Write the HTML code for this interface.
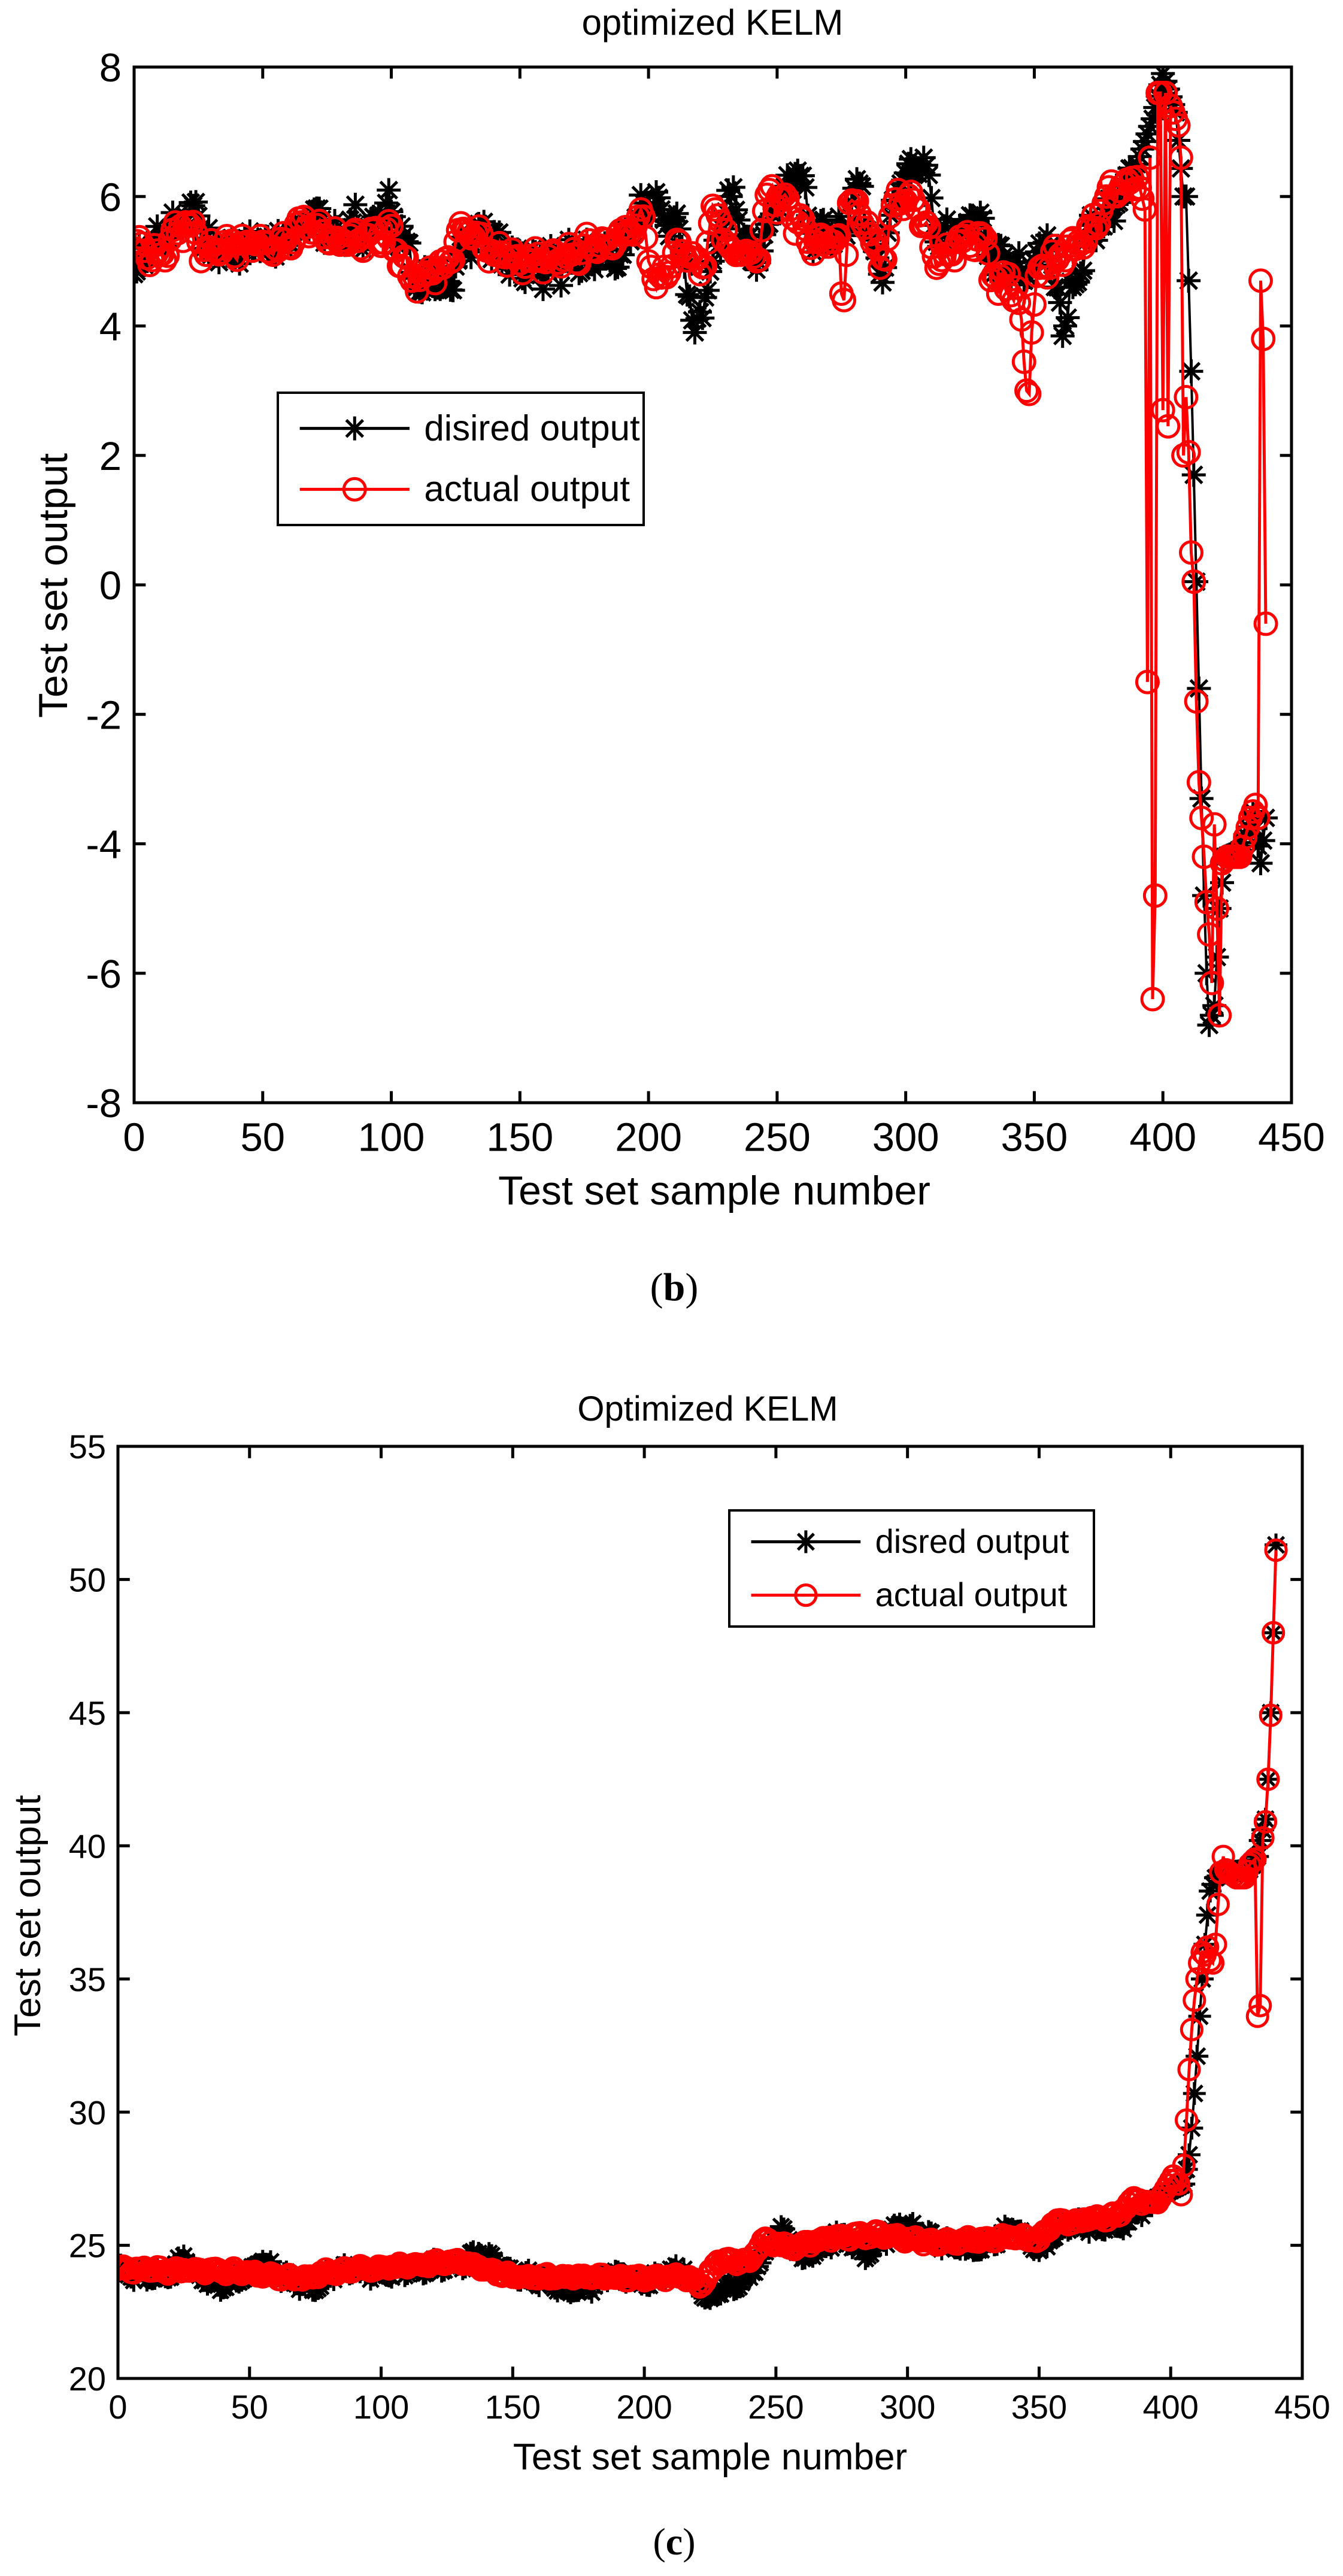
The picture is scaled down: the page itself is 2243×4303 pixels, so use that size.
<!DOCTYPE html>
<html><head><meta charset="utf-8">
<style>
html,body{margin:0;padding:0;background:#fff;}
svg{display:block;}
text{font-family:"Liberation Sans",Arial,sans-serif;fill:#000;}
.cap{font-family:"Liberation Serif",serif;}
</style></head>
<body>
<svg id="s" width="2243" height="4303" viewBox="0 0 2243 4303" xmlns="http://www.w3.org/2000/svg">
<defs>
<clipPath id="c1"><rect x="224" y="112" width="1933" height="1730"/></clipPath>
<clipPath id="c2"><rect x="197" y="2416" width="1978" height="1557"/></clipPath>
</defs>
<!-- chart b texts -->
<text x="1190" y="58" font-size="60" text-anchor="middle">optimized KELM</text>
<text x="1193" y="2012" font-size="68" text-anchor="middle">Test set sample number</text>
<text transform="translate(112,978) rotate(-90)" font-size="68" text-anchor="middle">Test set output</text>
<text class="cap" x="1126" y="2172" font-size="66" text-anchor="middle">(<tspan font-weight="bold">b</tspan>)</text>
<!-- chart c texts -->
<text x="1182" y="2373" font-size="58" text-anchor="middle">Optimized KELM</text>
<text x="1186" y="4125" font-size="62" text-anchor="middle">Test set sample number</text>
<text transform="translate(67,3200) rotate(-90)" font-size="62" text-anchor="middle">Test set output</text>
<text class="cap" x="1126" y="4267" font-size="64" text-anchor="middle">(<tspan font-weight="bold">c</tspan>)</text>
<g id="g1"></g>
<g id="g2"></g>
</svg>
<script>
var NS="http://www.w3.org/2000/svg";
function el(p,t,a){var e=document.createElementNS(NS,t);for(var k in a)e.setAttribute(k,a[k]);p.appendChild(e);return e;}
var seed=7;function rnd(){seed=(seed*16807)%2147483647;return seed/2147483647;}
function series(kp,noise){var out=[];var j=0;for(var i=0;i<=440;i++){while(j<kp.length-2&&kp[j+1][0]<i)j++;var a=kp[j],b=kp[j+1];var t=(b[0]==a[0])?0:(i-a[0])/(b[0]-a[0]);t=Math.max(0,Math.min(1,t));var v=a[1]+(b[1]-a[1])*t;
var exact=false;for(var q=0;q<kp.length;q++){if(kp[q][0]==i){v=kp[q][1];exact=true;break;}}
if(i<390&&!exact)v+=(Math.sin(i*0.9)*0.5+ (rnd()-0.5))*noise;out.push(v);}return out;}
function chart(g,L,T,R,B,xmin,xmax,ymin,ymax,yt,fs,lab,clip,D,A,leg,ms){
 var X=function(x){return L+(x-xmin)/(xmax-xmin)*(R-L);},Y=function(y){return B-(y-ymin)/(ymax-ymin)*(B-T);};
 var tl=(R-L)*0.01;
 for(var x=0;x<=450;x+=50){var px=X(x);el(g,"line",{x1:px,y1:B,x2:px,y2:B-tl,stroke:"#000","stroke-width":5});el(g,"line",{x1:px,y1:T,x2:px,y2:T+tl,stroke:"#000","stroke-width":5});
  var t=el(g,"text",{x:px,y:B+fs*1.2,"font-size":fs,"text-anchor":"middle"});t.textContent=x;}
 yt.forEach(function(y){var py=Y(y);el(g,"line",{x1:L,y1:py,x2:L+tl,y2:py,stroke:"#000","stroke-width":5});el(g,"line",{x1:R,y1:py,x2:R-tl,y2:py,stroke:"#000","stroke-width":5});
  var t=el(g,"text",{x:L-lab,y:py+fs*0.36,"font-size":fs,"text-anchor":"end"});t.textContent=y;});
 var pg=el(g,"g",{"clip-path":"url(#"+clip+")"});
 var d="",a="";D.forEach(function(v,i){d+=(i?"L":"M")+X(i).toFixed(1)+","+Y(v).toFixed(1);});
 A.forEach(function(v,i){a+=(i?"L":"M")+X(i).toFixed(1)+","+Y(v).toFixed(1);});
 el(pg,"path",{d:d,fill:"none",stroke:"#000","stroke-width":4});
 var sp="";D.forEach(function(v,i){sp+=star(X(i),Y(v),ms);});
 el(pg,"path",{d:sp,fill:"none",stroke:"#000","stroke-width":5});
 el(pg,"path",{d:a,fill:"none",stroke:"#f00","stroke-width":5});
 A.forEach(function(v,i){el(pg,"circle",{cx:X(i),cy:Y(v),r:ms*0.9,fill:"none",stroke:"#f00","stroke-width":5});});
 el(g,"rect",{x:L,y:T,width:R-L,height:B-T,fill:"none",stroke:"#000","stroke-width":5});
 // legend
 var lx=leg[0],ly=leg[1],lw=leg[2],lh=leg[3],lf=leg[4];
 el(g,"rect",{x:lx,y:ly,width:lw,height:lh,fill:"#fff",stroke:"#000","stroke-width":4});
 var y1=ly+lh*0.27,y2=ly+lh*0.73,x0=lx+lw*0.06,x1=lx+lw*0.36,xm=(x0+x1)/2;
 el(g,"line",{x1:x0,y1:y1,x2:x1,y2:y1,stroke:"#000","stroke-width":5});
 el(g,"path",{d:star(xm,y1,ms),stroke:"#000","stroke-width":5,fill:"none"});
 el(g,"line",{x1:x0,y1:y2,x2:x1,y2:y2,stroke:"#f00","stroke-width":5});
 el(g,"circle",{cx:xm,cy:y2,r:ms*0.9,fill:"none",stroke:"#f00","stroke-width":5});
 var t1=el(g,"text",{x:lx+lw*0.4,y:y1+lf*0.33,"font-size":lf});t1.textContent=leg[5];
 var t2=el(g,"text",{x:lx+lw*0.4,y:y2+lf*0.33,"font-size":lf});t2.textContent="actual output";
}
function star(x,y,s){var h=s,k=s*0.7;return "M"+(x-h)+","+y+"h"+(2*h)+"M"+x+","+(y-h)+"v"+(2*h)+"M"+(x-k)+","+(y-k)+"l"+(2*k)+","+(2*k)+"M"+(x-k)+","+(y+k)+"l"+(2*k)+","+(-2*k);}
var D1=series([[0,4.8],[5,5.2],[10,5.3],[20,5.7],[25,5.7],[30,5.1],[40,5.2],[50,5.3],[60,5.3],[65,5.6],[70,5.8],[75,5.4],[80,5.3],[85,5.6],[90,5.4],[98,5.9],[105,5.4],[110,4.6],[120,4.6],[128,5.2],[135,5.5],[145,5.0],[160,4.9],[170,5.0],[190,5.1],[198,5.9],[205,5.8],[212,5.5],[218,3.9],[225,5.0],[232,6.0],[240,5.0],[250,5.9],[258,6.4],[265,5.3],[275,5.5],[282,6.2],[290,4.8],[298,6.2],[307,6.6],[312,5.3],[320,5.3],[326,5.7],[335,5.0],[345,4.8],[350,5.0],[355,5.4],[358,4.6],[362,4.0],[365,4.6],[370,5.3],[380,5.8],[390,6.5],[396,7.2],[400,7.9],[405,7.3],[408,6.0],[409,6.0],[410,4.7],[411,3.3],[412,1.7],[413,0.05],[414,-1.6],[415,-3.3],[416,-4.8],[417,-6],[418,-6.8],[420,-6.5],[422,-5],[424,-4.2],[430,-4.1],[435,-3.5],[438,-4.3],[440,-3.6]],0.35);
var A1=series([[0,5.2],[10,5.1],[20,5.6],[28,5.1],[45,5.3],[55,5.2],[65,5.6],[75,5.3],[90,5.4],[98,5.5],[108,4.7],[120,4.9],[128,5.5],[140,5.1],[155,5.0],[170,5.1],[190,5.4],[197,5.8],[203,4.6],[212,5.3],[220,4.8],[226,5.8],[232,5.2],[242,5.0],[247,6.1],[255,5.8],[262,5.3],[272,5.3],[274,5.4],[275,4.5],[276,4.4],[278,5.9],[285,5.6],[290,4.9],[297,6.1],[305,5.8],[312,4.9],[320,5.3],[330,5.4],[336,4.5],[340,4.8],[345,4.1],[347,3.0],[348,2.95],[349,3.9],[352,4.9],[360,5.1],[370,5.3],[378,6.0],[385,6.2],[390,6.3],[393,5.8],[394,-1.5],[395,6.6],[396,-6.4],[397,-4.8],[398,7.6],[399,7.6],[400,2.7],[401,7.6],[402,2.45],[403,7.4],[404,7.3],[405,7.2],[406,7.1],[407,6.6],[408,2.0],[409,2.9],[410,2.05],[411,0.5],[412,0.05],[413,-1.8],[414,-3.05],[415,-3.6],[416,-4.2],[417,-4.9],[418,-5.4],[419,-6.15],[420,-3.7],[421,-5.0],[422,-6.65],[423,-4.3],[425,-4.2],[430,-4.2],[434,-3.6],[436,-3.4],[437,-3.6],[438,4.7],[439,3.8],[440,-0.6]],0.25);
chart(document.getElementById("g1"),224,112,2157,1842,0,450,-8,8,[-8,-6,-4,-2,0,2,4,6,8],67,21,"c1",D1,A1,[464,656,611,221,60,"disired output"],20);
var D2=series([[0,24.0],[20,23.8],[25,24.6],[30,24.0],[40,23.4],[50,24.0],[55,24.4],[60,23.9],[75,23.3],[80,24.0],[100,24.0],[130,24.3],[137,24.7],[150,24.0],[165,23.5],[175,23.3],[190,24.0],[200,23.6],[215,24.1],[225,23.0],[240,23.8],[252,25.7],[260,24.5],[275,25.4],[285,24.6],[297,25.8],[310,25.2],[325,24.8],[340,25.6],[350,24.8],[360,25.8],[380,25.7],[395,26.8],[405,27.3],[407,28.4],[408,29.4],[409,30.7],[410,32.1],[411,33.6],[412,35.0],[413,36.3],[414,37.4],[415,38.3],[417,38.8],[420,39.0],[430,39.1],[433,39.6],[434,40.2],[436,41.0],[437,42.5],[438,45.0],[439,48.0],[440,51.3]],0.3);
var A2=series([[0,24.1],[50,24.0],[70,23.7],[80,24.0],[130,24.4],[150,23.8],[170,23.8],[215,23.8],[222,23.5],[228,24.4],[240,24.4],[245,25.2],[255,24.9],[270,25.3],[290,25.4],[310,25.1],[340,25.3],[350,25.2],[355,25.8],[380,26.1],[385,26.7],[395,26.6],[401,27.6],[403,27.3],[404,26.9],[405,28.0],[406,29.7],[407,31.6],[408,33.1],[409,34.2],[410,35.0],[411,35.6],[412,36.0],[413,35.9],[414,36.2],[415,35.7],[416,35.6],[417,36.3],[418,37.8],[419,39.0],[420,39.6],[421,39.1],[425,38.8],[428,38.8],[430,39.3],[432,39.5],[433,33.6],[434,34.0],[435,40.3],[436,40.9],[437,42.5],[438,44.9],[439,48.0],[440,51.1]],0.15);
chart(document.getElementById("g2"),197,2416,2175,3973,0,450,20,55,[20,25,30,35,40,45,50,55],56,20,"c2",D2,A2,[1218,2523,609,194,56,"disred output"],19);
</script>
</body></html>
